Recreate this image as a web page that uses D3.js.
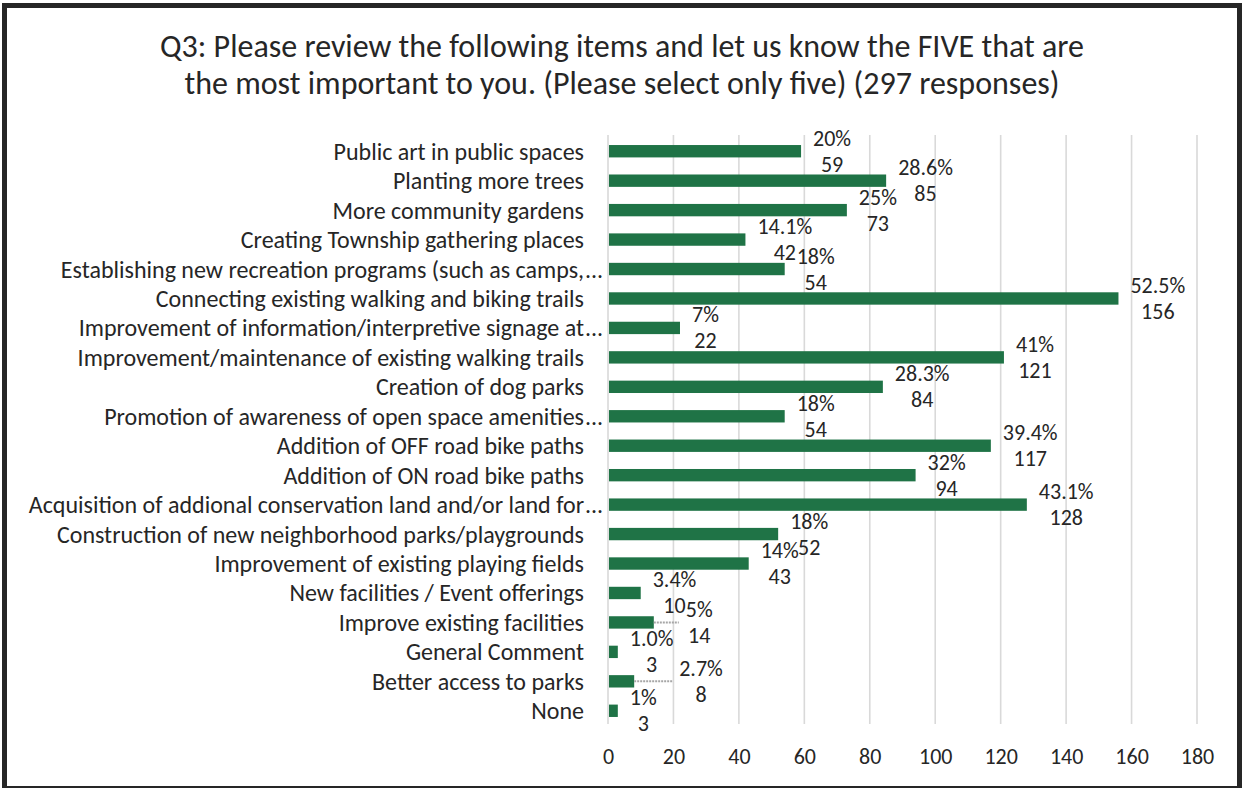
<!DOCTYPE html>
<html>
<head>
<meta charset="utf-8">
<script src="https://cdn.jsdelivr.net/npm/d3@7"></script>
<style>
  body { margin: 0; background: #ffffff; }
  svg text { font-family: Carlito, Calibri, Lato, sans-serif; fill: #262626; }
</style>
</head>
<body>
<svg id="chart" width="1246" height="788"></svg>
<script>
// Survey item names, top to bottom
const categories = [
  "Public art in public spaces",
  "Planting more trees",
  "More community gardens",
  "Creating Township gathering places",
  "Establishing new recreation programs (such as camps,...",
  "Connecting existing walking and biking trails",
  "Improvement of information/interpretive signage at...",
  "Improvement/maintenance of existing walking trails",
  "Creation of dog parks",
  "Promotion of awareness of open space amenities...",
  "Addition of OFF road bike paths",
  "Addition of ON road bike paths",
  "Acquisition of addional conservation land and/or land for...",
  "Construction of new neighborhood parks/playgrounds",
  "Improvement of existing playing fields",
  "New facilities / Event offerings",
  "Improve existing facilities",
  "General Comment",
  "Better access to parks",
  "None"
];

// Number of responses selecting each item
const counts = [59, 85, 73, 42, 54, 156, 22, 121, 84, 54, 117, 94, 128, 52, 43, 10, 14, 3, 8, 3];

// Share of the 297 respondents, as printed above each count
const percentLabels = ["20%", "28.6%", "25%", "14.1%", "18%", "52.5%", "7%", "41%", "28.3%", "18%",
  "39.4%", "32%", "43.1%", "18%", "14%", "3.4%", "5%", "1.0%", "2.7%", "1%"];

// Axis ticks
const tickValues = [0, 20, 40, 60, 80, 100, 120, 140, 160, 180];

// Extra horizontal push for labels that sit on a leader line
const labelNudge = [0, 0, 0, 0, 0, 0, 0, 0, 0, 0, 0, 0, 0, 0, 0, 0, 20, 0, 33, 0];

const titleLines = [
  "Q3: Please review the following items and let us know the FIVE that are",
  "the most important to you. (Please select only five) (297 responses)"
];

const svg = d3.select("#chart");
const W = 1246, H = 788;

svg.append("rect").attr("width", W).attr("height", H).attr("fill", "#ffffff");

const plot = { left: 608, right: 1197, top: 136.5, bottom: 725.5 };

const x = d3.scaleLinear().domain([0, 180]).range([plot.left, plot.right]);
const y = d3.scaleBand().domain(categories).range([plot.top, plot.bottom])
  .paddingInner(0.58).paddingOuter(0.29);

// Title
svg.append("g").selectAll("text").data(titleLines).join("text")
  .attr("x", 622)
  .attr("y", (d, i) => 57 + i * 37)
  .attr("text-anchor", "middle")
  .style("font-size", "32px")
  .text(d => d);

// Vertical gridlines
svg.append("g").selectAll("line").data(tickValues).join("line")
  .attr("x1", d => x(d)).attr("x2", d => x(d))
  .attr("y1", 135).attr("y2", 724)
  .attr("stroke", "#d9d9d9").attr("stroke-width", 1.6);

// X axis tick labels
const xAxis = d3.axisBottom(x).tickValues(tickValues).tickSize(0).tickPadding(0);
const gx = svg.append("g").attr("transform", "translate(0,747)").call(xAxis);
gx.select(".domain").remove();
gx.selectAll("text")
  .style("font-size", "22px")
  .style("font-family", "Carlito, Calibri, Lato, sans-serif")
  .attr("fill", "#262626")
  .attr("dy", "0.75em");

// Category labels (ellipsis hangs past the common right edge)
const catG = svg.append("g");
categories.forEach(c => {
  const cy = y(c) + y.bandwidth() / 2;
  const trunc = c.endsWith("...");
  const body = trunc ? c.slice(0, -3) : c;
  catG.append("text")
    .attr("x", 584).attr("y", cy)
    .attr("text-anchor", "end").attr("dominant-baseline", "central")
    .style("font-size", "24px")
    .text(body);
  if (trunc) {
    catG.append("text")
      .attr("x", 585).attr("y", cy)
      .attr("dominant-baseline", "central")
      .style("font-size", "24px")
      .text("...");
  }
});

// Bars
svg.append("g").selectAll("rect").data(counts).join("rect")
  .attr("x", x(0) + 1)
  .attr("y", (d, i) => y(categories[i]))
  .attr("width", d => x(d) - x(0) - 1)
  .attr("height", y.bandwidth())
  .attr("fill", "#1f7346");

// Two-line data labels: percentage over count
const lblG = svg.append("g");
counts.forEach((v, i) => {
  const cy = y(categories[i]) + y.bandwidth() / 2;
  const g = lblG.append("g");
  const t1 = g.append("text").attr("y", cy - 13).attr("text-anchor", "middle")
    .attr("dominant-baseline", "central").style("font-size", "22px").text(percentLabels[i]);
  const t2 = g.append("text").attr("y", cy + 13).attr("text-anchor", "middle")
    .attr("dominant-baseline", "central").style("font-size", "22px").text(String(v));
  const w = Math.max(t1.node().getComputedTextLength(), t2.node().getComputedTextLength());
  const left = x(v) + 12 + labelNudge[i];
  const cx = left + w / 2;
  t1.attr("x", cx);
  t2.attr("x", cx);
  if (labelNudge[i] > 0) {
    g.insert("line", "text")
      .attr("x1", x(v)).attr("x2", left - 7)
      .attr("y1", cy).attr("y2", cy)
      .attr("stroke", "#a6a6a6").attr("stroke-width", 2)
      .attr("stroke-dasharray", "2,1");
  }
});

// Outer frame
svg.append("rect")
  .attr("x", 4.5).attr("y", 5.5)
  .attr("width", 1235).attr("height", 783)
  .attr("fill", "none").attr("stroke", "#262626").attr("stroke-width", 5);
</script>
</body>
</html>
